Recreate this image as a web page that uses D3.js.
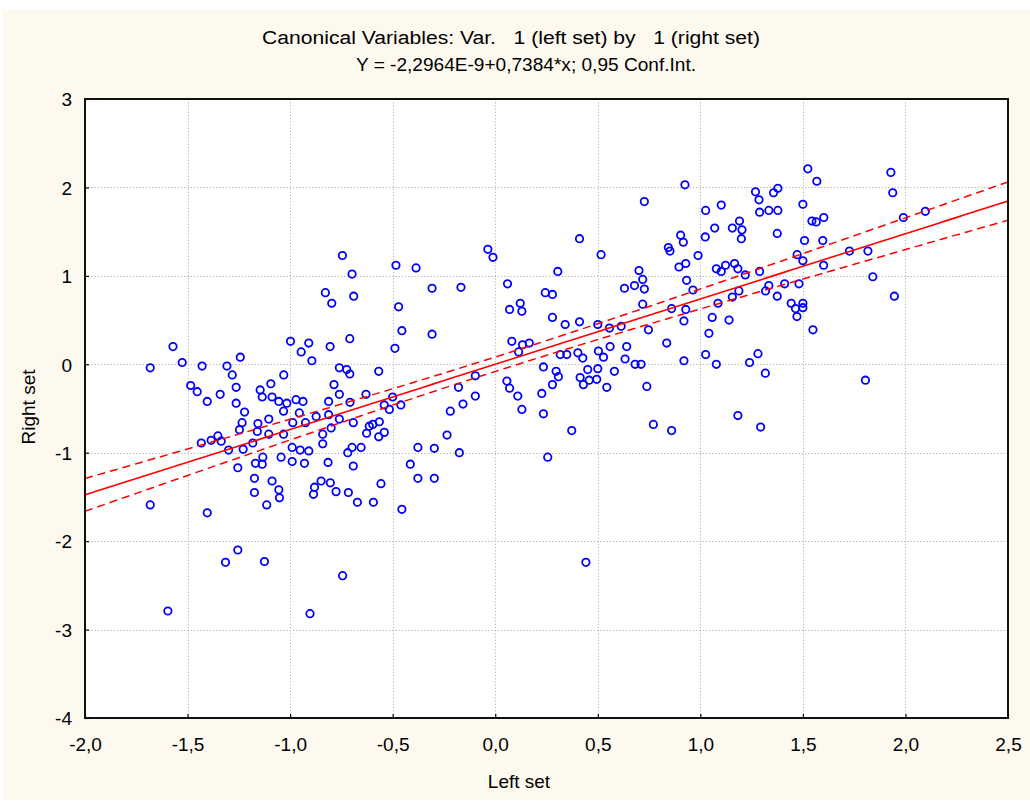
<!DOCTYPE html>
<html>
<head>
<meta charset="utf-8">
<script src="https://cdn.jsdelivr.net/npm/d3@7"></script>
<style>
  html, body { margin: 0; padding: 0; background: #ffffff; }
  svg { display: block; }
  text { font-family: "Liberation Sans", Arial, sans-serif; fill: #000; }
</style>
</head>
<body>
<svg id="chart" width="1030" height="802"></svg>
<script>
// ---------------- DATA ----------------
const titleLine1 = "Canonical Variables: Var.   1 (left set) by   1 (right set)";
const titleLine2 = "Y = -2,2964E-9+0,7384*x; 0,95 Conf.Int.";
const xAxisTitle = "Left set";
const yAxisTitle = "Right set";

const xTickValues = [-2.0, -1.5, -1.0, -0.5, 0.0, 0.5, 1.0, 1.5, 2.0, 2.5];
const xTickLabels = ["-2,0", "-1,5", "-1,0", "-0,5", "0,0", "0,5", "1,0", "1,5", "2,0", "2,5"];
const yTickValues = [3, 2, 1, 0, -1, -2, -3, -4];
const yTickLabels = ["3", "2", "1", "0", "-1", "-2", "-3", "-4"];

const interceptB0 = -2.2964e-9;
const slopeB1 = 0.7384;
const tCrit = 1.968;   // 0,95 Conf.Int.

// [left set, right set] pairs, grouped by area of the plot
const pointsUpperLeft = [
  [-1.682,-0.04],[-1.571,0.20],[-1.526,0.02],[-1.429,-0.02],[-1.308,-0.02],[-1.243,0.08],
  [-1.282,-0.12],[-1.485,-0.24],[-1.453,-0.31],[-1.404,-0.42],[-1.341,-0.34],[-1.263,-0.26],
  [-1.263,-0.44],[-0.998,0.26],[-0.909,0.24],[-0.946,0.14],[-0.894,0.04],[-1.031,-0.12],
  [-1.094,-0.22],[-1.146,-0.29],[-1.136,-0.37],[-1.088,-0.37],[-1.055,-0.42],[-1.016,-0.44],
  [-0.971,-0.40],[-0.937,-0.42],[-0.745,1.23],[-0.698,1.02],[-0.828,0.81],[-0.797,0.69],
  [-0.690,0.77],[-0.805,0.20],[-0.709,0.29],[-0.760,-0.04],[-0.724,-0.06],[-0.709,-0.11],
  [-0.786,-0.23],[-0.760,-0.34],[-0.812,-0.42],[-0.708,-0.43],[-0.630,-0.34],[-0.568,-0.08],
  [-0.484,1.12],[-0.471,0.65],[-0.455,0.38],[-0.489,0.18],[-0.500,-0.37],[-0.541,-0.46],
  [-0.460,-0.46]
];
const pointsLowerLeft = [
  [-1.222,-0.54],[-1.234,-0.66],[-1.247,-0.74],[-1.157,-0.67],[-1.104,-0.62],[-1.160,-0.76],
  [-1.104,-0.79],[-1.032,-0.53],[-0.955,-0.55],[-0.987,-0.66],[-1.032,-0.79],[-0.925,-0.66],
  [-0.873,-0.59],[-0.812,-0.57],[-0.760,-0.62],[-0.800,-0.72],[-0.841,-0.79],[-0.841,-0.90],
  [-1.433,-0.89],[-1.385,-0.86],[-1.352,-0.81],[-1.336,-0.87],[-1.300,-0.97],[-1.229,-0.96],
  [-1.182,-0.89],[-1.133,-1.05],[-1.169,-1.12],[-1.136,-1.13],[-1.255,-1.17],[-1.044,-1.05],
  [-0.990,-0.94],[-0.951,-0.97],[-0.909,-0.98],[-0.990,-1.10],[-0.930,-1.12],[-0.815,-1.11],
  [-0.719,-1.00],[-0.698,-0.94],[-0.654,-0.94],[-0.692,-1.15],[-0.692,-0.66],[-0.614,-0.70],
  [-0.627,-0.78],[-0.597,-0.68],[-0.565,-0.65],[-0.568,-0.82],[-0.541,-0.77],[-0.516,-0.51],
  [-1.174,-1.29],[-1.088,-1.32],[-1.174,-1.45],[-1.055,-1.42],[-1.052,-1.51],[-1.114,-1.59],
  [-0.881,-1.39],[-0.849,-1.32],[-0.886,-1.47],[-0.804,-1.34],[-0.776,-1.44],[-0.716,-1.45],
  [-0.672,-1.56],[-0.594,-1.56],[-0.557,-1.35],[-0.455,-1.64],[-1.682,-1.59],[-1.404,-1.68],
  [-1.255,-2.10],[-1.315,-2.24],[-1.125,-2.23],[-0.744,-2.39],[-1.596,-2.79],[-0.903,-2.82]
];
const pointsUpperMiddle = [
  [-0.386,1.09],[-0.308,0.86],[-0.167,0.87],[-0.308,0.34],[-0.036,1.30],[-0.011,1.21],
  [0.060,0.91],[0.305,1.05],[0.411,1.42],[0.516,1.24],[0.727,1.84],[0.925,2.03],
  [0.244,0.81],[0.279,0.79],[0.070,0.62],[0.122,0.69],[0.130,0.60],[0.279,0.53],
  [0.341,0.45],[0.411,0.48],[0.500,0.45],[0.557,0.41],[0.614,0.43],[0.630,0.86],
  [0.679,0.89],[0.701,1.06],[0.719,0.96],[0.727,0.85],[0.719,0.68],[0.747,0.39],
  [0.836,0.24],[0.860,0.63],[0.844,1.32],[0.852,1.28],[0.904,1.46],[0.917,1.38],
  [0.896,1.10],[0.929,1.14],[0.933,0.95],[0.929,0.62],[0.920,0.49],[0.920,0.04],
  [0.081,0.26],[0.133,0.22],[0.166,0.24],[0.114,0.14],[0.317,0.11],[0.349,0.11],
  [0.403,0.13],[0.427,0.07],[0.503,0.15],[0.528,0.08],[0.560,0.20],[0.641,0.20],
  [0.633,0.06],[0.682,0.00],[0.711,0.00],[0.235,-0.03],[0.297,-0.08],[0.308,-0.14],
  [0.279,-0.23],[0.227,-0.33],[0.451,-0.06],[0.500,-0.05],[0.414,-0.15],[0.458,-0.18],
  [0.430,-0.23],[0.495,-0.17],[0.581,-0.08],[0.544,-0.26],[0.739,-0.25],[-0.097,-0.13],
  [-0.179,-0.26],[-0.097,-0.36],[0.057,-0.19],[0.070,-0.27],[0.110,-0.36]
];
const pointsLowerMiddle = [
  [-0.157,-0.45],[-0.219,-0.53],[0.130,-0.51],[0.235,-0.56],[0.373,-0.75],[0.771,-0.68],
  [0.860,-0.75],[-0.235,-0.80],[-0.377,-0.94],[-0.297,-0.95],[-0.175,-1.00],[0.256,-1.05],
  [-0.414,-1.13],[-0.377,-1.29],[-0.297,-1.29],[0.442,-2.24]
];
const pointsUpperRight = [
  [1.026,1.74],[1.102,1.80],[1.070,1.54],[1.024,1.44],[0.989,1.23],[0.964,0.84],
  [1.058,0.53],[1.140,0.50],[1.042,0.35],[1.086,0.69],[1.156,0.76],[1.188,0.83],
  [1.078,1.08],[1.102,1.05],[1.123,1.12],[1.167,1.14],[1.183,1.08],[1.219,1.01],
  [1.289,1.05],[1.156,1.54],[1.191,1.62],[1.203,1.52],[1.200,1.42],[1.269,1.95],
  [1.286,1.86],[1.289,1.72],[1.334,1.74],[1.357,1.94],[1.378,1.99],[1.378,1.74],
  [1.375,1.48],[1.500,1.81],[1.524,2.21],[1.568,2.07],[1.544,1.62],[1.565,1.61],
  [1.602,1.66],[1.508,1.40],[1.597,1.40],[1.472,1.24],[1.500,1.17],[1.601,1.12],
  [1.727,1.28],[1.817,1.28],[1.841,0.99],[1.946,0.77],[1.929,2.17],[1.938,1.94],
  [1.990,1.66],[2.097,1.73],[1.334,0.89],[1.318,0.83],[1.411,0.91],[1.481,0.91],
  [1.375,0.77],[1.443,0.69],[1.464,0.63],[1.500,0.69],[1.500,0.64],[1.471,0.54],
  [1.549,0.39],[1.026,0.11],[1.078,0.00],[1.240,0.02],[1.281,0.12],[1.317,-0.10],
  [1.805,-0.18]
];
const pointsLowerRight = [
  [1.183,-0.58],[1.294,-0.71]
];

// ---------------- CHART ----------------
const W = 1030, H = 802;
const plotLeft = 85, plotRight = 1008, plotTop = 99, plotBottom = 718;
const labelFont = 19;

const points = [].concat(pointsUpperLeft, pointsLowerLeft, pointsUpperMiddle,
                         pointsLowerMiddle, pointsUpperRight, pointsLowerRight);

const svg = d3.select("#chart");

// cream panel
svg.append("rect").attr("x", 3).attr("y", 10).attr("width", W - 3).attr("height", 790)
   .attr("fill", "#fdf9ef");

const x = d3.scaleLinear().domain([-2, 2.5]).range([plotLeft, plotRight]);
const y = d3.scaleLinear().domain([-4, 3]).range([plotBottom, plotTop]);

// plot background
svg.append("rect").attr("x", plotLeft).attr("y", plotTop)
   .attr("width", plotRight - plotLeft).attr("height", plotBottom - plotTop)
   .attr("fill", "#ffffff");

// grid
const grid = svg.append("g").attr("stroke", "#b4b4b4").attr("stroke-width", 1)
   .attr("stroke-dasharray", "1.2,2");
grid.selectAll("line.gx").data(xTickValues.slice(1, -1)).enter().append("line")
   .attr("x1", d => Math.round(x(d)) + 0.5).attr("x2", d => Math.round(x(d)) + 0.5)
   .attr("y1", plotTop).attr("y2", plotBottom);
grid.selectAll("line.gy").data(yTickValues.slice(1, -1)).enter().append("line")
   .attr("y1", d => Math.round(y(d)) + 0.5).attr("y2", d => Math.round(y(d)) + 0.5)
   .attr("x1", plotLeft).attr("x2", plotRight);

// axes (inward ticks)
const xAxis = d3.axisBottom(x).tickValues(xTickValues)
   .tickFormat((d, i) => xTickLabels[i]).tickSize(-4).tickPadding(20);
const yAxis = d3.axisLeft(y).tickValues(yTickValues)
   .tickFormat((d, i) => yTickLabels[i]).tickSize(-4).tickPadding(13);

const gx = svg.append("g").attr("transform", `translate(0,${plotBottom})`).call(xAxis);
const gy = svg.append("g").attr("transform", `translate(${plotLeft},0)`).call(yAxis);
[gx, gy].forEach(g => {
  g.select(".domain").remove();
  g.selectAll(".tick line").attr("stroke", "#000").attr("stroke-width", 1.2);
  g.selectAll(".tick text").attr("font-size", labelFont)
   .attr("font-family", "'Liberation Sans', Arial, sans-serif").attr("fill", "#000");
});
gy.selectAll(".tick text").attr("dy", "0.36em");

// points
svg.append("g").selectAll("circle").data(points).enter().append("circle")
   .attr("cx", d => x(d[0])).attr("cy", d => y(d[1])).attr("r", 3.7)
   .attr("fill", "none").attr("stroke", "#0000ff").attr("stroke-width", 1.8);

// regression line and confidence band computed from the points
const n = points.length;
const xbar = d3.mean(points, d => d[0]);
const sxx = d3.sum(points, d => (d[0] - xbar) ** 2);
const sse = d3.sum(points, d => (d[1] - (interceptB0 + slopeB1 * d[0])) ** 2);
const sRes = Math.sqrt(sse / (n - 2));
const xs = d3.range(-2, 2.5001, 0.05);
const fit = xv => interceptB0 + slopeB1 * xv;
const half = xv => tCrit * sRes * Math.sqrt(1 / n + (xv - xbar) ** 2 / sxx);
const line = d3.line().x(d => x(d[0])).y(d => y(d[1]));

svg.append("clipPath").attr("id", "plotclip").append("rect")
   .attr("x", plotLeft).attr("y", plotTop)
   .attr("width", plotRight - plotLeft).attr("height", plotBottom - plotTop);
const fitG = svg.append("g").attr("clip-path", "url(#plotclip)");
fitG.append("path").datum(xs.map(v => [v, fit(v)])).attr("d", line)
   .attr("fill", "none").attr("stroke", "#ff0000").attr("stroke-width", 1.6);
fitG.append("path").datum(xs.map(v => [v, fit(v) + half(v)])).attr("d", line)
   .attr("fill", "none").attr("stroke", "#ff0000").attr("stroke-width", 1.5)
   .attr("stroke-dasharray", "8,5");
fitG.append("path").datum(xs.map(v => [v, fit(v) - half(v)])).attr("d", line)
   .attr("fill", "none").attr("stroke", "#ff0000").attr("stroke-width", 1.5)
   .attr("stroke-dasharray", "8,5");

// frame
svg.append("rect").attr("x", plotLeft).attr("y", plotTop)
   .attr("width", plotRight - plotLeft).attr("height", plotBottom - plotTop)
   .attr("fill", "none").attr("stroke", "#111").attr("stroke-width", 2);

// titles
svg.append("text").attr("x", 511).attr("y", 44).attr("text-anchor", "middle")
   .attr("font-size", 18).style("white-space", "pre")
   .attr("textLength", 498).attr("lengthAdjust", "spacingAndGlyphs")
   .text(titleLine1);
svg.append("text").attr("x", 526).attr("y", 71).attr("text-anchor", "middle")
   .attr("font-size", 18).style("white-space", "pre")
   .attr("textLength", 340).attr("lengthAdjust", "spacingAndGlyphs")
   .text(titleLine2);

svg.append("text").attr("x", 519).attr("y", 788).attr("text-anchor", "middle")
   .attr("font-size", labelFont).text(xAxisTitle);
svg.append("text").attr("transform", "translate(35,407) rotate(-90)")
   .attr("text-anchor", "middle").attr("font-size", labelFont).text(yAxisTitle);
</script>
</body>
</html>
